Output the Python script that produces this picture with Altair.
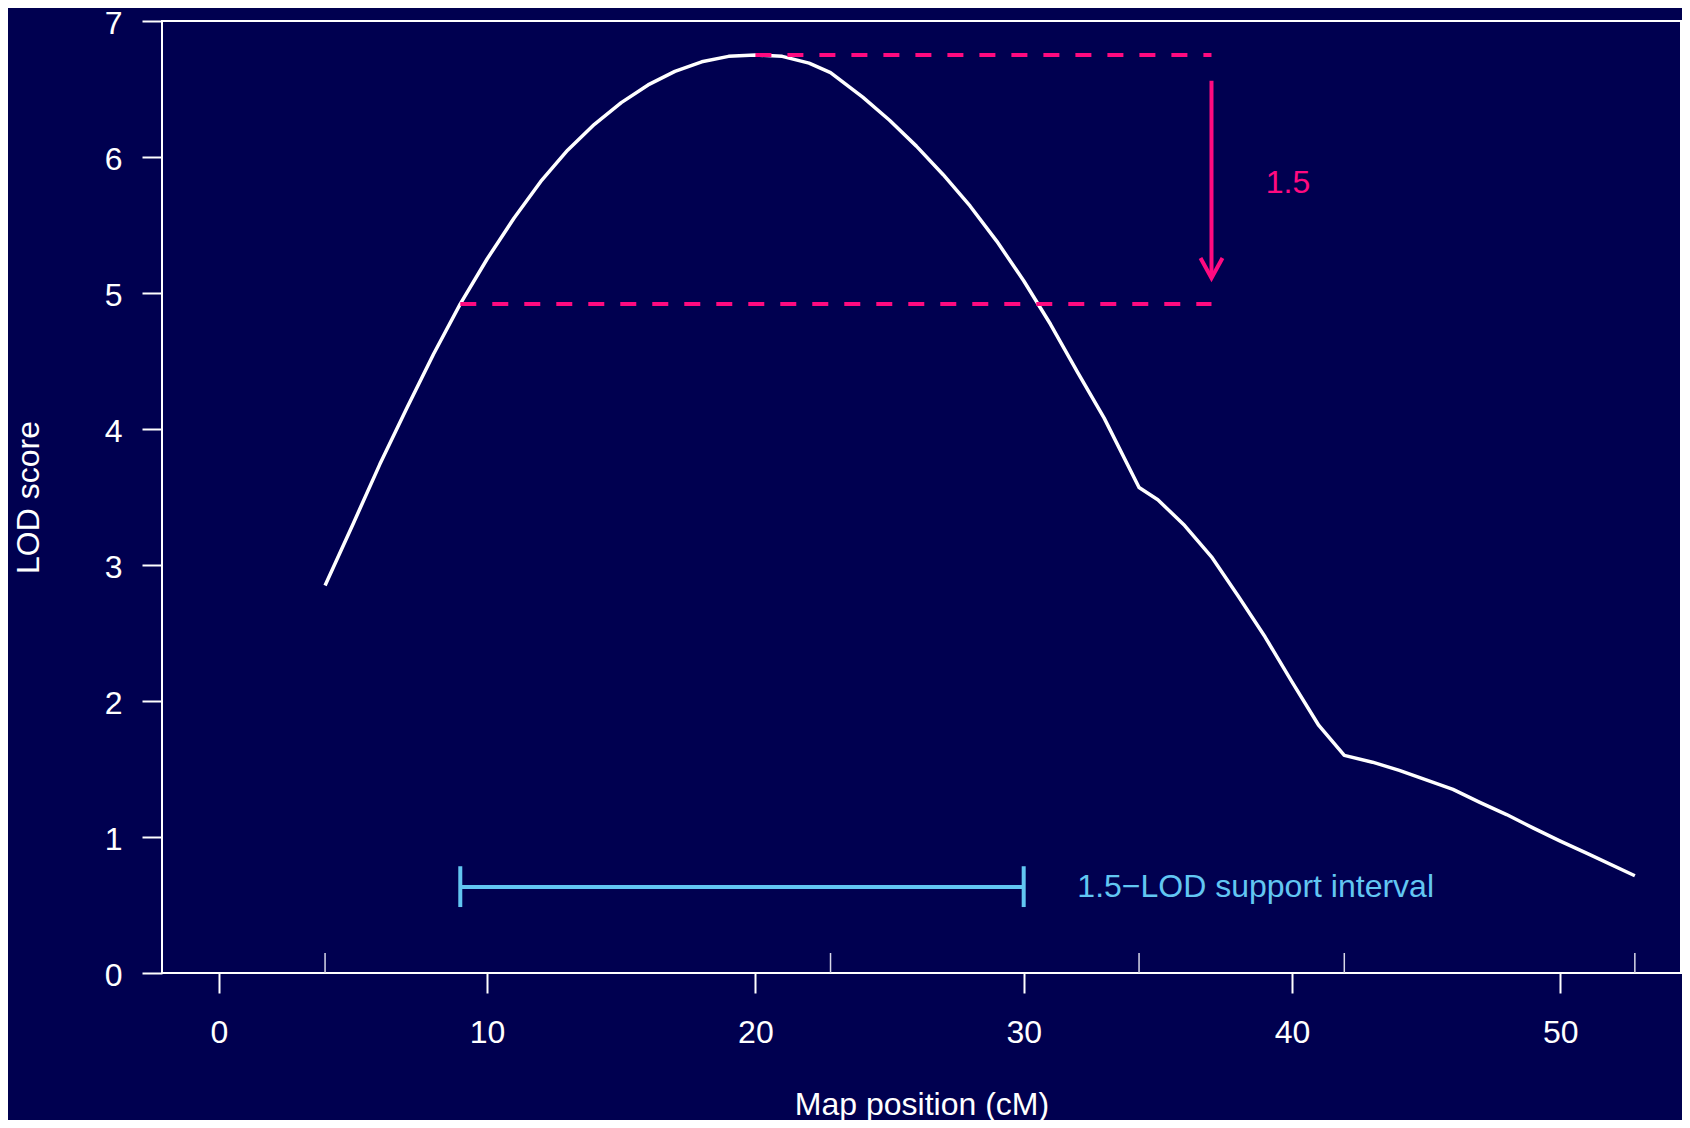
import altair as alt
import pandas as pd

# ---- data ----
pos = [3.96, 5, 6, 7, 8, 9, 10, 11, 12, 13, 14, 15, 16, 17, 18, 19, 20, 21, 22, 22.8,
       24, 25, 26, 27, 28, 29, 30, 31, 32, 33, 34.3, 35, 36, 37, 38, 39, 40, 41, 41.95,
       43, 44, 45, 46, 47, 48, 49, 50, 51, 52.78]
lod = [2.85, 3.30, 3.74, 4.15, 4.55, 4.92, 5.25, 5.55, 5.82, 6.05, 6.24, 6.40, 6.53, 6.63, 6.70, 6.74, 6.75, 6.74, 6.69, 6.62,
       6.44, 6.27, 6.08, 5.87, 5.64, 5.38, 5.09, 4.77, 4.42, 4.08, 3.57, 3.48, 3.29, 3.06, 2.77, 2.47, 2.14, 1.82, 1.60,
       1.55, 1.49, 1.42, 1.35, 1.255, 1.165, 1.065, 0.97, 0.88, 0.715]
markers = [3.96, 22.8, 34.3, 41.95, 52.78]

x_ticks = [0, 10, 20, 30, 40, 50]
y_ticks = [0, 1, 2, 3, 4, 5, 6, 7]

dash_x0 = [20, 9]
dash_x1 = [37, 37]
dash_y = [6.75, 4.92]

arrow_x = [37]
arrow_y0 = [6.56]
arrow_y1 = [5.11]
drop_label = ["1.5"]
drop_label_x = [39.85]
drop_label_y = [5.81]

si_x0 = [9]
si_x1 = [30]
si_y = [0.632]
si_cap_lo = [0.485]
si_cap_hi = [0.785]
si_label = ["1.5\u2212LOD support interval"]
si_label_x = [32.0]

# ---- styles ----
BG = "#000050"
PINK = "#FF0A80"
BLUE = "#62C6F2"
FONT = "Liberation Sans"
FS = 32
W, H = 1519, 952

xs = alt.Scale(domain=[-2.118, 54.50], nice=False, zero=False)
ys = alt.Scale(domain=[0, 7], nice=False, zero=False)

x_axis = alt.Axis(values=x_ticks, tickSize=20, tickWidth=2, tickColor="white",
                  labelFontSize=FS, labelColor="white", labelFont=FONT, labelPadding=24,
                  labelFlush=False, domain=False, grid=False,
                  titleFontSize=FS, titleColor="white", titleFont=FONT, titleFontWeight="normal",
                  titleY=131, titleBaseline="middle")
y_axis = alt.Axis(values=y_ticks, tickSize=20, tickWidth=2, tickColor="white",
                  labelFontSize=FS, labelColor="white", labelFont=FONT, labelPadding=20,
                  labelFlush=False, labelOffset=2, domain=False, grid=False,
                  titleFontSize=FS, titleColor="white", titleFont=FONT, titleFontWeight="normal",
                  titleX=-134, titleBaseline="middle")

XT = "Map position (cM)"
YT = "LOD score"


def X(f, **kw):
    return alt.X(f, scale=xs, axis=x_axis, title=XT, **kw)


def Y(f, **kw):
    return alt.Y(f, scale=ys, axis=y_axis, title=YT, **kw)


curve_df = pd.DataFrame({"pos": pos, "lod": lod})
curve = alt.Chart(curve_df).mark_line(color="white", strokeWidth=3.5, strokeJoin="round").encode(
    x=X("pos:Q"), y=Y("lod:Q"), order="pos:Q")

rug_df = pd.DataFrame({"m": markers})
rug = alt.Chart(rug_df).mark_rule(color="#d8d8e8", strokeWidth=1.5).encode(
    x=X("m:Q"), y=alt.value(H), y2=alt.value(H - 20))

dash_df = pd.DataFrame({"x0": dash_x0, "x1": dash_x1, "y": dash_y})
dashes = alt.Chart(dash_df).mark_rule(color=PINK, strokeWidth=4, strokeDash=[16, 16]).encode(
    x=X("x0:Q"), x2="x1:Q", y=Y("y:Q"))

arrow_df = pd.DataFrame({"x": arrow_x, "y0": arrow_y0, "y1": arrow_y1})
shaft = alt.Chart(arrow_df).mark_rule(color=PINK, strokeWidth=4).encode(
    x=X("x:Q"), y=Y("y0:Q"), y2="y1:Q")
head = alt.Chart(arrow_df).mark_point(shape="M -1.1 -2 L 0 0 L 1.1 -2", size=400, filled=False,
                                      color=PINK, strokeWidth=4, opacity=1,
                                      strokeJoin="miter").encode(
    x=X("x:Q"), y=Y("y1:Q"))

drop_df = pd.DataFrame({"t": drop_label, "x": drop_label_x, "y": drop_label_y})
drop_text = alt.Chart(drop_df).mark_text(color=PINK, fontSize=FS, font=FONT, align="center",
                                         baseline="middle").encode(
    x=X("x:Q"), y=Y("y:Q"), text="t:N")

si_df = pd.DataFrame({"x0": si_x0, "x1": si_x1, "y": si_y, "lo": si_cap_lo, "hi": si_cap_hi,
                      "t": si_label, "tx": si_label_x})
si_bar = alt.Chart(si_df).mark_rule(color=BLUE, strokeWidth=4).encode(
    x=X("x0:Q"), x2="x1:Q", y=Y("y:Q"))
si_cap0 = alt.Chart(si_df).mark_rule(color=BLUE, strokeWidth=4).encode(
    x=X("x0:Q"), y=Y("lo:Q"), y2="hi:Q")
si_cap1 = alt.Chart(si_df).mark_rule(color=BLUE, strokeWidth=4).encode(
    x=X("x1:Q"), y=Y("lo:Q"), y2="hi:Q")
si_text = alt.Chart(si_df).mark_text(color=BLUE, fontSize=FS, font=FONT, align="left",
                                     baseline="middle").encode(
    x=X("tx:Q"), y=Y("y:Q"), text="t:N")

chart = alt.layer(curve, rug, dashes, shaft, head, drop_text, si_bar, si_cap0, si_cap1, si_text).properties(
    width=W, height=H,
    autosize=alt.AutoSizeParams(type="none"),
    padding={"left": 154, "top": 13, "right": 1, "bottom": 147},
    background=BG,
).configure_view(stroke="white", strokeWidth=2)

chart.save("out.html", embed_options={"renderer": "svg", "actions": False})
